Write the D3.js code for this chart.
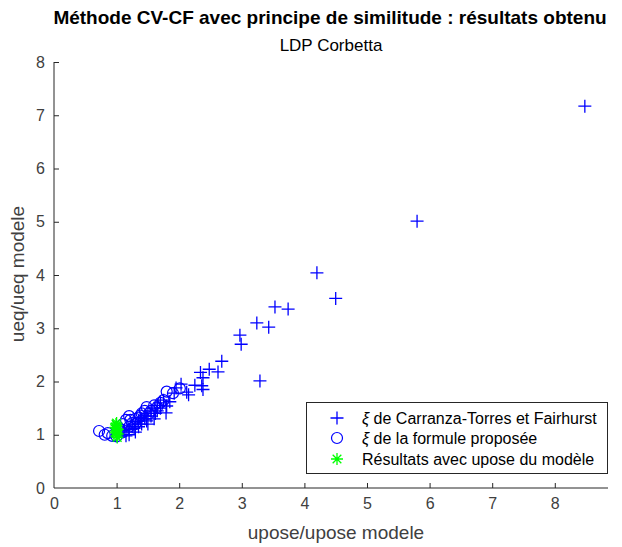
<!DOCTYPE html>
<html><head><meta charset="utf-8">
<script src="https://cdn.jsdelivr.net/npm/d3@7"></script>
<style>body{margin:0;background:#fff}text{font-family:"Liberation Sans",Arial,sans-serif}</style>
</head><body><svg id="c" width="622" height="547"></svg>
<script>
const titleText = "Méthode CV-CF avec principe de similitude : résultats obtenu";
const subtitleText = "LDP Corbetta";
const xLabel = "upose/upose modele";
const yLabel = "ueq/ueq modele";
const xTicks = [0,1,2,3,4,5,6,7,8];
const yTicks = [0,1,2,3,4,5,6,7,8];
// Carranza-Torres et Fairhurst (+)
const plusX = [8.48,5.80,4.20,4.50,3.53,3.74,3.24,3.43,2.97,2.99,3.29,2.68,2.48,2.62,2.34,2.36,2.38,2.15,2.03,1.92,1.80,1.79,1.95,2.12,2.25,2.38,
  1.20,1.25,1.30,1.35,1.40,1.45,1.50,1.55,1.60,1.65,1.70,1.75,1.50,1.60,1.40,1.30,1.20,1.10,1.15,1.35,1.45,1.55,1.65,1.85,1.70,1.62,1.48,1.38,1.28,1.12];
const plusY = [7.17,5.01,4.04,3.56,3.40,3.36,3.10,3.02,2.87,2.70,2.01,2.38,2.23,2.18,2.17,1.92,1.85,1.75,1.95,1.78,1.54,1.41,1.88,1.80,1.93,2.07,
  1.10,1.15,1.20,1.25,1.30,1.35,1.40,1.45,1.50,1.55,1.60,1.65,1.20,1.30,1.20,1.05,1.00,1.05,0.98,1.15,1.30,1.35,1.45,1.62,1.50,1.40,1.26,1.32,1.12,1.08];
// formule proposée (o)
const circX = [0.72,0.81,0.86,0.93,1.00,1.05,1.10,1.15,1.20,1.25,1.30,1.35,1.40,1.45,1.48,1.55,1.60,1.70,1.75,1.80,2.01,1.20,1.30,1.10,1.90,1.65,1.38,1.22,1.52];
const circY = [1.07,1.00,1.03,0.98,0.97,1.10,1.20,1.28,1.35,1.22,1.30,1.32,1.40,1.45,1.52,1.45,1.55,1.60,1.65,1.81,1.87,1.15,1.20,1.05,1.78,1.52,1.36,1.28,1.40];
// upose du modèle (*)
const starX = [1.00,1.00,1.00,1.00,1.00,0.98,1.02,0.99,1.01,1.00,0.98,1.02];
const starY = [0.98,1.03,1.08,1.12,1.17,1.05,1.10,1.20,0.95,1.22,1.14,1.01];
const legendLabels = ["de Carranza-Torres et Fairhurst","de la formule proposée","Résultats avec upose du modèle"];

const svg = d3.select("#c");
const m = {l:54, r:608, t:62, b:488};
const x = d3.scaleLinear().domain([0,8.85]).range([m.l,m.r]);
const y = d3.scaleLinear().domain([0,8]).range([m.b,m.t]);
const axisCol = "#262626";

svg.append("text").attr("x",330).attr("y",24).attr("text-anchor","middle")
  .attr("font-size",19).attr("font-weight","bold").attr("fill","#000").text(titleText);
svg.append("text").attr("x",331).attr("y",51).attr("text-anchor","middle")
  .attr("font-size",17).attr("fill","#000").text(subtitleText);

const gx = svg.append("g").attr("transform",`translate(0,${m.b})`)
  .call(d3.axisBottom(x).tickValues(xTicks).tickSize(-5).tickPadding(10).tickFormat(d3.format("d")));
const gy = svg.append("g").attr("transform",`translate(${m.l},0)`)
  .call(d3.axisLeft(y).tickValues(yTicks).tickSize(-5).tickPadding(9).tickFormat(d3.format("d")));
[gx,gy].forEach(g=>{
  g.select(".domain").attr("stroke",axisCol).attr("stroke-width",1);
  g.selectAll(".tick line").attr("stroke",axisCol);
  g.selectAll(".tick text").attr("fill","#404040").attr("font-size",16).attr("font-family","Liberation Sans, Arial, sans-serif");
});
gy.select(".domain").attr("d",`M0,${m.b}V${m.t}`);
gx.select(".domain").attr("d",`M${m.l},0H${m.r}`);
gx.selectAll(".tick").filter(d=>d===0).select("line").remove();
gy.selectAll(".tick").filter(d=>d===0).select("line").remove();

svg.append("text").attr("x",336).attr("y",539).attr("text-anchor","middle")
  .attr("font-size",19).attr("fill","#404040").text(xLabel);
svg.append("text").attr("transform",`translate(24,274) rotate(-90)`).attr("text-anchor","middle")
  .attr("font-size",19).attr("fill","#404040").text(yLabel);

const blue = "#0000ff", green = "#00ff00";
function plus(g, cx, cy, s){ g.append("path").attr("d",`M${cx-s},${cy}H${cx+s}M${cx},${cy-s}V${cy+s}`).attr("stroke",blue).attr("stroke-width",1.3).attr("fill","none"); }
function star(g, cx, cy, s){
  const d = s*0.72;
  g.append("path").attr("d",`M${cx-s},${cy}H${cx+s}M${cx},${cy-s}V${cy+s}M${cx-d},${cy-d}L${cx+d},${cy+d}M${cx-d},${cy+d}L${cx+d},${cy-d}`)
   .attr("stroke",green).attr("stroke-width",1.3).attr("fill","none");
}
const plot = svg.append("g");
plusX.forEach((v,i)=>plus(plot, x(v), y(plusY[i]), 6.5));
plot.selectAll("circle.o").data(circX.map((v,i)=>[v,circY[i]])).join("circle")
  .attr("cx",d=>x(d[0])).attr("cy",d=>y(d[1])).attr("r",5.5).attr("fill","none").attr("stroke",blue).attr("stroke-width",1.2);
starX.forEach((v,i)=>star(plot, x(v), y(starY[i]), 6));

// legend
const lg = svg.append("g");
lg.append("rect").attr("x",306.5).attr("y",402.5).attr("width",301).attr("height",71)
  .attr("fill","#fff").attr("stroke",axisCol).attr("stroke-width",1);
const rows = [418,438,459];
plus(lg,337,rows[0],6.5);
lg.append("circle").attr("cx",337).attr("cy",rows[1]).attr("r",5.5).attr("fill","none").attr("stroke",blue).attr("stroke-width",1.2);
star(lg,337,rows[2],6);
rows.forEach((ry,i)=>{
  const t = lg.append("text").attr("x",362).attr("y",ry+5.5).attr("font-size",16).attr("fill","#000");
  if(i<2){ t.append("tspan").attr("font-style","italic").text("ξ"); t.append("tspan").text(" "+legendLabels[i]); }
  else t.text(legendLabels[i]);
});
</script></body></html>
